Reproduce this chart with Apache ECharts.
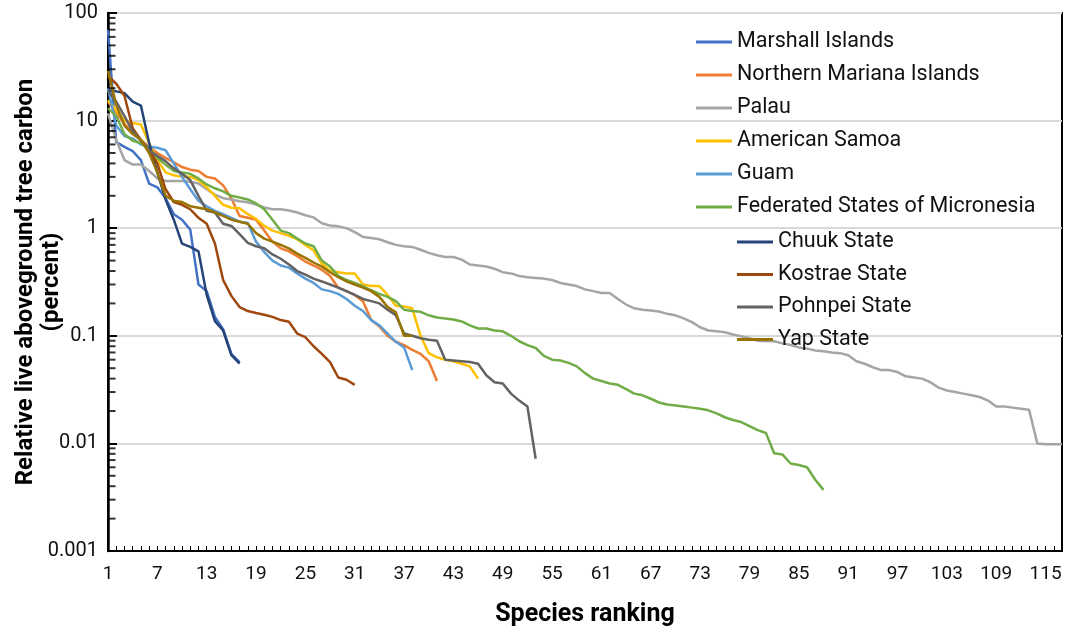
<!DOCTYPE html>
<html>
<head>
<meta charset="utf-8">
<script src="https://cdn.jsdelivr.net/npm/echarts@6/dist/echarts.min.js"></script>
<style>
  html, body { margin: 0; background: #fff; }
  #chart { width: 1068px; height: 632px; }
</style>
</head>
<body>
<div id="chart"></div>
<script>
// species ranking 1..117
var ranks = [];
for (var i = 1; i <= 117; i++) ranks.push(String(i));

var seriesNames = ['Marshall Islands', 'Northern Mariana Islands', 'Palau', 'American Samoa', 'Guam',
  'Federated States of Micronesia', 'Chuuk State', 'Kostrae State', 'Pohnpei State', 'Yap State'];
var colors = ['#4472C4', '#ED7D31', '#A5A5A5', '#FFC000', '#5B9BD5',
  '#70AD47', '#264478', '#9E480E', '#636363', '#997300'];

var marshall = [70, 6.3, 5.7, 5.2, 4.3, 2.6, 2.4, 1.9, 1.35, 1.2, 0.97, 0.3, 0.26, 0.15, 0.115, 0.068, 0.057];
var northernMariana = [15, 12, 9.3, 7.8, 6.6, 5.7, 5, 4.5, 4.1, 3.7, 3.5, 3.4, 3.0, 2.9, 2.5, 1.9, 1.3, 1.25, 1.2, 0.95,
  0.75, 0.65, 0.61, 0.55, 0.49, 0.45, 0.41, 0.36, 0.28, 0.26, 0.24, 0.21, 0.14, 0.122, 0.1, 0.088, 0.082, 0.074, 0.068, 0.058,
  0.038];
var palau = [11.7, 6.6, 4.3, 3.9, 3.9, 3.4, 2.9, 2.75, 2.75, 2.75, 2.7, 2.6, 2.3, 2.05, 1.9, 1.85, 1.78, 1.74, 1.66, 1.56,
  1.5, 1.5, 1.46, 1.4, 1.32, 1.26, 1.11, 1.06, 1.04, 1.0, 0.92, 0.83, 0.81, 0.79, 0.74, 0.70, 0.68, 0.67, 0.63, 0.59,
  0.56, 0.54, 0.54, 0.51, 0.46, 0.45, 0.44, 0.42, 0.39, 0.38, 0.36, 0.35, 0.345, 0.34, 0.33, 0.31, 0.30, 0.29, 0.27, 0.26,
  0.25, 0.25, 0.22, 0.195, 0.18, 0.175, 0.172, 0.168, 0.16, 0.155, 0.145, 0.134, 0.12, 0.112, 0.11, 0.108, 0.103, 0.099, 0.095, 0.09,
  0.089, 0.089, 0.085, 0.082, 0.078, 0.076, 0.073, 0.072, 0.07, 0.069, 0.066, 0.058, 0.055, 0.051, 0.048, 0.048, 0.046, 0.042, 0.041, 0.04,
  0.037, 0.033, 0.031, 0.030, 0.029, 0.028, 0.027, 0.025, 0.022, 0.022, 0.0215, 0.021, 0.0205, 0.01, 0.0098, 0.0098, 0.0098];
var americanSamoa = [15.5, 12.5, 10, 9.5, 9.2, 6.2, 4.3, 3.3, 3.1, 3.0, 3.0, 2.8, 2.4, 2.0, 1.65, 1.55, 1.53, 1.35, 1.22, 1.05,
  0.95, 0.9, 0.85, 0.79, 0.7, 0.62, 0.47, 0.4, 0.39, 0.38, 0.38, 0.3, 0.29, 0.29, 0.24, 0.19, 0.187, 0.18, 0.1, 0.069,
  0.063, 0.06, 0.058, 0.055, 0.052, 0.04];
var guam = [20, 9, 7.2, 6.8, 6, 5.7, 5.6, 5.3, 4, 3, 2.3, 1.8, 1.6, 1.45, 1.35, 1.25, 1.15, 1.12, 0.75, 0.6,
  0.5, 0.45, 0.43, 0.38, 0.34, 0.31, 0.27, 0.26, 0.245, 0.22, 0.19, 0.17, 0.14, 0.125, 0.105, 0.088, 0.078, 0.048];
var micronesia = [13, 11, 7.5, 6.5, 6.2, 5.4, 4.5, 3.9, 3.4, 3.3, 3.2, 2.9, 2.55, 2.35, 2.2, 2.0, 1.93, 1.85, 1.7, 1.5,
  1.2, 0.95, 0.9, 0.8, 0.72, 0.68, 0.5, 0.44, 0.36, 0.33, 0.31, 0.29, 0.265, 0.245, 0.23, 0.21, 0.175, 0.17, 0.167, 0.155,
  0.148, 0.145, 0.142, 0.136, 0.125, 0.117, 0.117, 0.112, 0.11, 0.1, 0.089, 0.082, 0.077, 0.065, 0.06, 0.059, 0.056, 0.052, 0.045, 0.04,
  0.038, 0.036, 0.035, 0.032, 0.029, 0.028, 0.026, 0.024, 0.023, 0.0225, 0.022, 0.0215, 0.021, 0.0203, 0.019, 0.0175, 0.0165, 0.0158, 0.0145, 0.0133,
  0.0125, 0.0081, 0.0079, 0.0065, 0.0063, 0.006, 0.0046, 0.0037];
var chuuk = [19, 18.7, 18, 15, 13.8, 6.2, 3.3, 1.85, 1.2, 0.72, 0.67, 0.61, 0.24, 0.137, 0.112, 0.066, 0.055];
var kostrae = [26, 22, 17, 8.5, 6.6, 5.3, 4, 2.3, 1.75, 1.65, 1.5, 1.25, 1.1, 0.72, 0.33, 0.235, 0.185, 0.17, 0.163, 0.157,
  0.15, 0.14, 0.135, 0.105, 0.097, 0.08, 0.068, 0.057, 0.041, 0.039, 0.035];
var pohnpei = [19, 15, 11, 8, 6.5, 5.3, 4.7, 4.2, 3.6, 3.2, 2.8, 2.0, 1.45, 1.4, 1.1, 1.05, 0.88, 0.73, 0.68, 0.65,
  0.57, 0.52, 0.46, 0.4, 0.37, 0.34, 0.32, 0.3, 0.28, 0.26, 0.24, 0.22, 0.21, 0.2, 0.175, 0.155, 0.105, 0.1, 0.095, 0.092,
  0.09, 0.06, 0.059, 0.058, 0.057, 0.055, 0.043, 0.037, 0.036, 0.029, 0.025, 0.022, 0.0072];
var yap = [29, 14, 9, 7.5, 6.6, 5, 3.3, 2.0, 1.8, 1.75, 1.6, 1.55, 1.5, 1.4, 1.3, 1.2, 1.15, 1.1, 0.9, 0.8,
  0.75, 0.7, 0.65, 0.58, 0.53, 0.48, 0.44, 0.39, 0.35, 0.32, 0.3, 0.28, 0.26, 0.23, 0.185, 0.165, 0.1, 0.1];

var yTickLabels = ['0.001', '0.01', '0.1', '1', '10', '100'];
var decades = [0.001, 0.01, 0.1, 1, 10];
var minorSteps = [2, 3, 4, 5, 6, 7, 8, 9];

var allData = [marshall, northernMariana, palau, americanSamoa, guam, micronesia, chuuk, kostrae, pohnpei, yap];

var myChart = echarts.init(document.getElementById('chart'));

var series = seriesNames.map(function (name, idx) {
  return {
    name: name,
    type: 'line',
    data: allData[idx],
    symbol: 'none',
    lineStyle: { color: colors[idx], width: 2.5 },
    itemStyle: { color: colors[idx] },
    z: 3,
    silent: true,
    animation: false
  };
});

// inward minor ticks (2..9 of each decade) on the log axis, placed at the first category
var minorTicks = [];
decades.forEach(function (d) {
  minorSteps.forEach(function (k) { minorTicks.push(['1', +(d * k).toPrecision(3)]); });
});
series.push({
  name: 'minorTicks',
  type: 'scatter',
  data: minorTicks,
  symbol: 'rect',
  symbolSize: [7, 2],
  symbolOffset: [4, 0],
  itemStyle: { color: '#000' },
  clip: false,
  silent: true,
  z: 6,
  animation: false
});

var legendText = { fontFamily: 'Roboto', fontSize: 21.5, color: '#111', lineHeight: 24 };

var option = {
  backgroundColor: '#fff',
  animation: false,
  textStyle: { fontFamily: 'Roboto' },
  grid: {
    left: 108, right: 6, top: 13, bottom: 81,
    outerBoundsMode: 'none',
    containLabel: false,
    show: true, borderColor: '#000', borderWidth: 2, backgroundColor: 'transparent'
  },
  legend: [{
    data: seriesNames.slice(0, 6),
    orient: 'vertical',
    left: 691, top: 25,
    icon: 'rect', itemWidth: 36, itemHeight: 3, itemGap: 9,
    textStyle: legendText
  }, {
    data: seriesNames.slice(6),
    orient: 'vertical',
    left: 732, top: 225,
    icon: 'rect', itemWidth: 36, itemHeight: 3, itemGap: 8.5,
    textStyle: legendText
  }],
  xAxis: {
    type: 'category',
    data: ranks,
    boundaryGap: false,
    name: 'Species ranking',
    nameLocation: 'middle',
    nameGap: 51,
    nameTextStyle: { fontFamily: 'Roboto', fontSize: 25, fontWeight: 'bold', color: '#000' },
    axisLine: { lineStyle: { color: '#000', width: 2 } },
    axisTick: { show: true, inside: true, interval: 0, length: 5, lineStyle: { color: '#000', width: 1 } },
    axisLabel: { interval: 5, fontSize: 19, color: '#111', margin: 14 },
    splitLine: { show: false }
  },
  yAxis: {
    type: 'log',
    logBase: 10,
    min: 0.001,
    max: 100,
    name: 'Relative live aboveground tree carbon\n(percent)',
    nameLocation: 'middle',
    nameGap: 43,
    nameMoveOverlap: false,
    nameRotate: 90,
    nameTextStyle: { fontFamily: 'Roboto', fontSize: 24, fontWeight: 'bold', color: '#000', lineHeight: 26 },
    axisLine: { show: true, lineStyle: { color: '#000', width: 2.5 } },
    axisTick: { show: true, inside: true, length: 9, lineStyle: { color: '#000', width: 2 } },
    axisLabel: {
      fontSize: 20, color: '#111', margin: 10,
      formatter: function (v) {
        var idx = Math.round(Math.log10(v)) + 3;
        return yTickLabels[idx] !== undefined ? yTickLabels[idx] : '';
      }
    },
    splitLine: { show: true, lineStyle: { color: '#d9d9d9', width: 2 } }
  },
  series: series
};

myChart.setOption(option);
</script>
</body>
</html>
